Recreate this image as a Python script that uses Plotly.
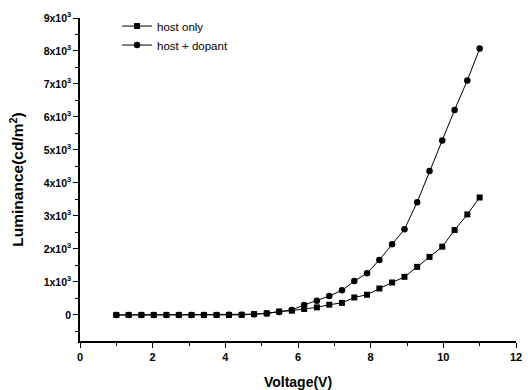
import plotly.graph_objects as go

voltage = [1.00, 1.34, 1.69, 2.03, 2.38, 2.72, 3.07, 3.41, 3.76, 4.10,
           4.45, 4.79, 5.14, 5.48, 5.83, 6.17, 6.52, 6.86, 7.21, 7.55,
           7.90, 8.24, 8.59, 8.93, 9.28, 9.62, 9.97, 10.31, 10.66, 11.00]

host_only = [0, 0, 0, 0, 0, 0, 0, 0, 0, 0,
             2, 25, 48, 105, 130, 181, 229, 311, 365, 530,
             612, 802, 983, 1155, 1457, 1759, 2069, 2573, 3047, 3560]

host_dopant = [0, 0, 0, 0, 0, 0, 0, 0, 0, 2,
               8, 22, 45, 90, 151, 302, 431, 573, 745, 1025,
               1267, 1668, 2142, 2594, 3418, 4360, 5288, 6214, 7107, 8072]

y_tickvals = [0, 1000, 2000, 3000, 4000, 5000, 6000, 7000, 8000, 9000]
y_ticktext = ["0"] + [f"{i}x10<sup>3</sup>" for i in range(1, 10)]
x_tickvals = [0, 2, 4, 6, 8, 10, 12]

fig = go.Figure()
fig.add_trace(go.Scatter(
    x=voltage, y=host_only, mode="lines+markers", name="host only",
    line=dict(color="black", width=1),
    marker=dict(symbol="square", size=6, color="black"),
))
fig.add_trace(go.Scatter(
    x=voltage, y=host_dopant, mode="lines+markers", name="host + dopant",
    line=dict(color="black", width=1),
    marker=dict(symbol="circle", size=6.5, color="black"),
))

font_family = "Liberation Sans, Arial, sans-serif"

fig.update_layout(
    width=528, height=390,
    margin=dict(l=80, r=12, t=16, b=49),
    paper_bgcolor="white", plot_bgcolor="white",
    font=dict(family=font_family, color="black", size=10),
    showlegend=True,
    legend=dict(x=0.085, y=1.02, xanchor="left", yanchor="top",
                bgcolor="rgba(0,0,0,0)", font=dict(size=11.5),
                itemwidth=30, tracegroupgap=0),
    xaxis=dict(
        range=[0, 12], showgrid=False, zeroline=False, automargin=False,
        showline=True, linecolor="black", linewidth=1.5,
        ticks="outside", ticklen=5, tickwidth=1, tickcolor="black",
        tickmode="array", tickvals=x_tickvals,
        ticktext=[f"<b>{v}</b>" for v in x_tickvals],
        tickfont=dict(size=11),
        minor=dict(tickmode="array", tickvals=[1, 3, 5, 7, 9, 11],
                   ticks="outside", ticklen=3, tickcolor="black"),
        title=dict(text="<b>Voltage(V)</b>", font=dict(size=14), standoff=16),
    ),
    yaxis=dict(
        range=[-790, 9000], showgrid=False, zeroline=False, automargin=False,
        showline=True, linecolor="black", linewidth=1.5,
        ticks="outside", ticklen=5, tickwidth=1, tickcolor="black",
        tickmode="array", tickvals=y_tickvals,
        ticktext=[f"<b>{t}</b>" for t in y_ticktext],
        tickfont=dict(size=10.5),
        minor=dict(tickmode="array",
                   tickvals=[-500, 500, 1500, 2500, 3500, 4500, 5500, 6500, 7500, 8500],
                   ticks="outside", ticklen=3, tickcolor="black"),
        title=dict(text="<b>Luminance(cd/m<sup>2</sup>)</b>", font=dict(size=15.5), standoff=16),
    ),
)

fig.write_html("out.html")
